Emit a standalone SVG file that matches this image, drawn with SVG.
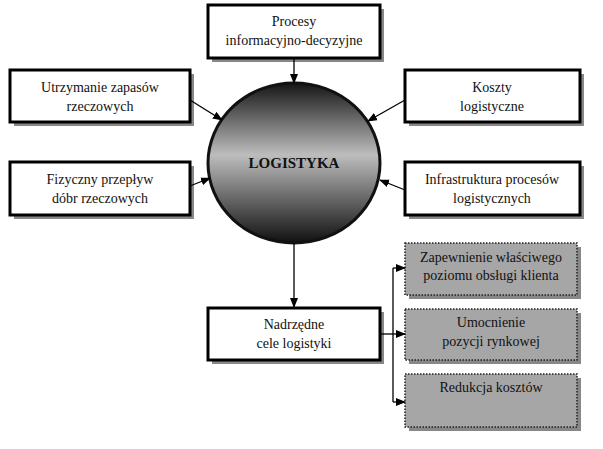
<svg xmlns="http://www.w3.org/2000/svg" width="603" height="449" viewBox="0 0 603 449">
<style>
text{font-family:"Liberation Serif",serif;font-size:14px;fill:#111;text-anchor:middle}
.b{fill:#fff;stroke:#000;stroke-width:3}
.sh{fill:#888}
.g{fill:#a6a6a6;stroke:#222;stroke-width:1.5;stroke-dasharray:1.5 1.5}
.c{stroke:#000;stroke-width:1.3;fill:none}
</style>
<defs>
<linearGradient id="lg" x1="0" y1="0" x2="0" y2="1">
<stop offset="0" stop-color="#151515"/><stop offset="0.45" stop-color="#bdbdbd"/><stop offset="1" stop-color="#101010"/>
</linearGradient>
<marker id="a" markerWidth="10" markerHeight="8" refX="9" refY="4" orient="auto" markerUnits="userSpaceOnUse"><path d="M0,0L10,4L0,8z" fill="#000"/></marker>
</defs>
<g id="proc"><rect class="sh" x="212" y="9" width="172" height="53"/><rect class="b" x="208" y="5" width="172" height="53"/><text x="294" y="26">Procesy</text><text x="294" y="45">informacyjno-decyzyjne</text></g>
<g id="utrz"><rect class="sh" x="14" y="74" width="180" height="52"/><rect class="b" x="10" y="70" width="180" height="52"/><text x="100" y="92">Utrzymanie zapasów</text><text x="100" y="111">rzeczowych</text></g>
<g id="fiz"><rect class="sh" x="14" y="166" width="180" height="53"/><rect class="b" x="10" y="162" width="180" height="53"/><text x="100" y="184">Fizyczny przepływ</text><text x="100" y="203">dóbr rzeczowych</text></g>
<g id="koszty"><rect class="sh" x="409" y="74" width="175" height="52"/><rect class="b" x="405" y="70" width="175" height="52"/><text x="492" y="92">Koszty</text><text x="492" y="111">logistyczne</text></g>
<g id="infra"><rect class="sh" x="409" y="166" width="175" height="53"/><rect class="b" x="405" y="162" width="175" height="53"/><text x="492" y="184">Infrastruktura procesów</text><text x="492" y="203">logistycznych</text></g>
<g id="logistyka"><ellipse cx="294" cy="163" rx="86" ry="80" fill="url(#lg)" stroke="#111" stroke-width="3"/><text x="294" y="168" style="font-weight:bold;font-size:15px">LOGISTYKA</text></g>
<g id="cele"><rect class="sh" x="212" y="312" width="172" height="52"/><rect class="b" x="208" y="308" width="172" height="52"/><text x="294" y="329">Nadrzędne</text><text x="294" y="348">cele logistyki</text></g>
<g id="z1"><rect class="sh" x="409" y="247" width="172" height="52"/><rect class="g" x="405" y="243" width="172" height="52"/><text x="491" y="262">Zapewnienie właściwego</text><text x="491" y="280">poziomu obsługi klienta</text></g>
<g id="z2"><rect class="sh" x="409" y="313" width="172" height="51"/><rect class="g" x="405" y="309" width="172" height="51"/><text x="491" y="327">Umocnienie</text><text x="491" y="346">pozycji rynkowej</text></g>
<g id="z3"><rect class="sh" x="409" y="378" width="172" height="53"/><rect class="g" x="405" y="374" width="172" height="53"/><text x="491" y="392">Redukcja kosztów</text></g>
<g id="connectors">
<line class="c" x1="294" y1="58" x2="294" y2="83" marker-end="url(#a)"/>
<line class="c" x1="190" y1="100" x2="222" y2="120" marker-end="url(#a)"/>
<line class="c" x1="190" y1="186" x2="210" y2="178" marker-end="url(#a)"/>
<line class="c" x1="405" y1="100" x2="368" y2="121" marker-end="url(#a)"/>
<line class="c" x1="405" y1="190" x2="380" y2="180" marker-end="url(#a)"/>
<line class="c" x1="294" y1="243" x2="294" y2="307" marker-end="url(#a)"/>
<polyline class="c" points="380,334 393,334"/>
<line class="c" x1="393" y1="268" x2="393" y2="402"/>
<line class="c" x1="393" y1="268" x2="405" y2="268" marker-end="url(#a)"/>
<line class="c" x1="393" y1="334" x2="405" y2="334" marker-end="url(#a)"/>
<line class="c" x1="393" y1="402" x2="405" y2="402" marker-end="url(#a)"/>
</g>
</svg>
